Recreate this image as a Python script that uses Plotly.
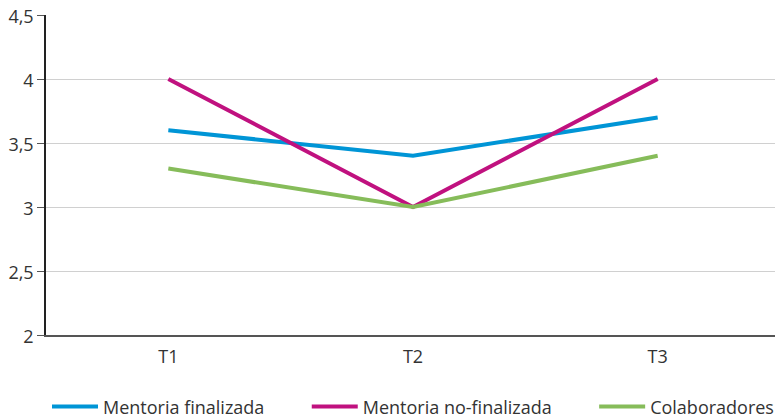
import plotly.graph_objects as go

categories = ["T1", "T2", "T3"]
mentoria_finalizada = [3.6, 3.4, 3.7]
mentoria_no_finalizada = [4.0, 3.0, 4.0]
colaboradores = [3.3, 3.0, 3.4]

pad = "\u00a0" * 8
series = [
    ("Mentoria finalizada" + pad, mentoria_finalizada, "#0095d6"),
    ("Mentoria no-finalizada" + pad, mentoria_no_finalizada, "#c0117f"),
    ("Colaboradores", colaboradores, "#86bc5a"),
]

fig = go.Figure()
for name, vals, color in series:
    fig.add_trace(go.Scatter(
        x=categories, y=vals, mode="lines", name=name,
        line=dict(color=color, width=4),
    ))

# page body has an 8px default margin, so the figure is offset by (8, 8)
fig.update_layout(
    width=783, height=419,
    margin=dict(l=38, r=11, t=7, b=92),
    paper_bgcolor="white", plot_bgcolor="white",
    separators=",.",
    font=dict(family="Open Sans", size=18, color="#333333"),
    showlegend=True,
    legend=dict(orientation="h", x=0.5, xanchor="center",
                yref="container", y=0.004, yanchor="bottom",
                font=dict(size=18), itemwidth=46, tracegroupgap=0),
)
fig.update_xaxes(
    type="category", range=[-0.5, 2.5], automargin=False,
    showgrid=False, showline=True, linecolor="#555555", linewidth=1.5,
    ticks="outside", ticklen=5, tickcolor="rgba(0,0,0,0)", tickfont=dict(size=18),
)
fig.update_yaxes(
    range=[2, 4.5], dtick=0.5, automargin=False, ticklabeloverflow="allow",
    ticklabelshift=2,
    showgrid=True, gridcolor="#d0d0d0", gridwidth=1,
    showline=True, linecolor="#222222", linewidth=1.5,
    ticks="outside", ticklen=7, tickcolor="#555555", zeroline=False,
    tickfont=dict(size=18),
)

fig.write_html("out.html")
